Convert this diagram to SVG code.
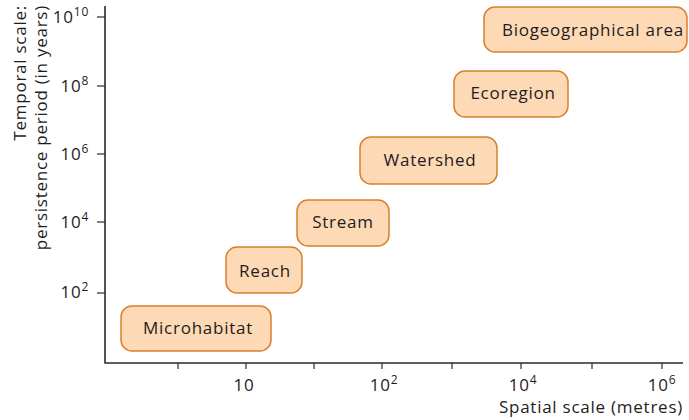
<svg xmlns="http://www.w3.org/2000/svg" width="689" height="420" viewBox="0 0 689 420">
<style>
text{font-family:"Open Sans","Liberation Sans",sans-serif;fill:#1f1c1d;font-size:17px;letter-spacing:0.75px}
.sup{font-size:12px}
.box{fill:#fddab5;stroke:#d8802e;stroke-width:1.5}
.lbl{text-anchor:middle}
.axis{stroke:#2b2b2b;stroke-width:1.6;fill:none}
.tick{stroke:#2b2b2b;stroke-width:1.2}
</style>
<rect width="689" height="420" fill="#ffffff"/>
<g id="axes">
<path class="axis" d="M105 6 V363 H683"/>
<g class="tick">
<line x1="97" y1="17" x2="105" y2="17"/>
<line x1="97" y1="86" x2="105" y2="86"/>
<line x1="97" y1="154" x2="105" y2="154"/>
<line x1="97" y1="222" x2="105" y2="222"/>
<line x1="97" y1="293" x2="105" y2="293"/>
<line x1="178" y1="363" x2="178" y2="369"/>
<line x1="246" y1="363" x2="246" y2="369"/>
<line x1="314" y1="363" x2="314" y2="369"/>
<line x1="382" y1="363" x2="382" y2="369"/>
<line x1="452" y1="363" x2="452" y2="369"/>
<line x1="521" y1="363" x2="521" y2="369"/>
<line x1="592" y1="363" x2="592" y2="369"/>
<line x1="662" y1="363" x2="662" y2="369"/>
</g>
<g text-anchor="end">
<text x="89" y="23">10<tspan class="sup" dy="-7">10</tspan></text>
<text x="89" y="92">10<tspan class="sup" dy="-7">8</tspan></text>
<text x="89" y="160">10<tspan class="sup" dy="-7">6</tspan></text>
<text x="89" y="228">10<tspan class="sup" dy="-7">4</tspan></text>
<text x="89" y="298">10<tspan class="sup" dy="-7">2</tspan></text>
</g>
<g text-anchor="middle">
<text x="244" y="391">10</text>
<text x="384" y="391">10<tspan class="sup" dy="-7">2</tspan></text>
<text x="523" y="391">10<tspan class="sup" dy="-7">4</tspan></text>
<text x="662" y="391">10<tspan class="sup" dy="-7">6</tspan></text>
</g>
<text x="683" y="413" text-anchor="end">Spatial scale (metres)</text>
<text transform="translate(26,5) rotate(-90)" text-anchor="end">Temporal scale:</text>
<text transform="translate(47,5) rotate(-90)" text-anchor="end">persistence period (in years)</text>
</g>
<g id="microhabitat">
<rect class="box" x="121" y="306" width="150" height="45" rx="11"/>
<text class="lbl" x="198" y="334">Microhabitat</text>
</g>
<g id="reach">
<rect class="box" x="226" y="247" width="76" height="46" rx="11"/>
<text class="lbl" x="265" y="277">Reach</text>
</g>
<g id="stream">
<rect class="box" x="297" y="200" width="92" height="46" rx="11"/>
<text class="lbl" x="343" y="228">Stream</text>
</g>
<g id="watershed">
<rect class="box" x="360" y="137" width="137" height="47" rx="11"/>
<text class="lbl" x="430" y="166">Watershed</text>
</g>
<g id="ecoregion">
<rect class="box" x="454" y="71" width="114" height="46" rx="11"/>
<text class="lbl" x="513" y="99">Ecoregion</text>
</g>
<g id="biogeographical">
<rect class="box" x="484" y="7" width="203" height="45" rx="11"/>
<text class="lbl" x="593" y="36">Biogeographical area</text>
</g>
</svg>
